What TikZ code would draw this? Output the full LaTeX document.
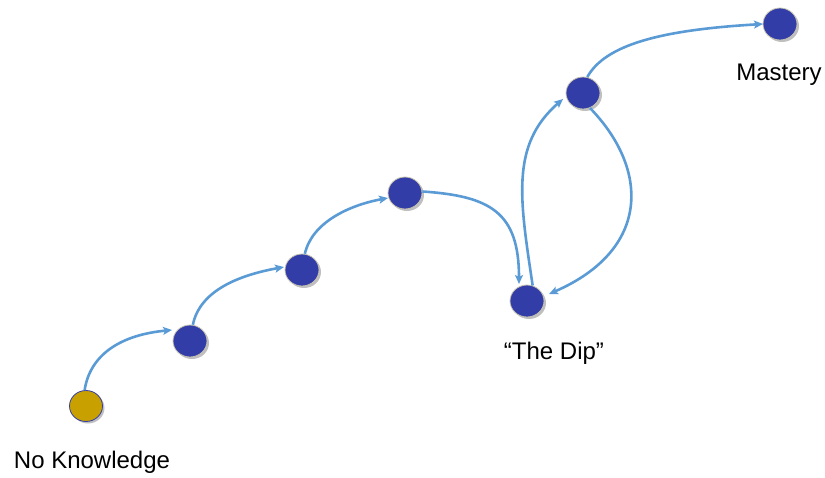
\documentclass[tikz,border=0pt]{standalone}
\usepackage{fontspec}
\setmainfont{Liberation Sans}
\usetikzlibrary{arrows.meta,shadows}
\definecolor{dotblue}{HTML}{333DA8}
\definecolor{dotgold}{HTML}{C8A000}
\definecolor{arrowblue}{HTML}{5B9BD5}
\definecolor{rimgray}{HTML}{C8C4B0}
\tikzset{
  dot/.style={ellipse, minimum width=34pt, minimum height=32pt, inner sep=0pt,
    fill=dotblue, draw=rimgray, line width=0.8pt,
    drop shadow={shadow xshift=2pt, shadow yshift=-2pt, opacity=0.25, fill=black}},
  startdot/.style={dot, fill=dotgold, draw=dotblue, minimum width=33pt, minimum height=31pt},
  link/.style={draw=arrowblue, line width=2.6pt, -{Stealth[length=9pt,width=8pt,inset=2pt]}},
  lbl/.style={font=\fontsize{24pt}{28pt}\selectfont, inner sep=0pt}
}
\usetikzlibrary{shapes.geometric}
\begin{document}
\begin{tikzpicture}[x=1pt,y=-1pt]
\useasboundingbox (0,0) rectangle (825,477);
\node[startdot] (n0) at (86,406) {};
\node[dot] (n1) at (190,341) {};
\node[dot] (n2) at (302,270) {};
\node[dot] (n3) at (405,193) {};
\node[dot] (dip) at (527,301) {};
\node[dot] (n5) at (583,93) {};
\node[dot] (mast) at (780,24) {};
\node[lbl] (t0) at (92,462) {No Knowledge};
\node[lbl] (t1) at (554,353) {“The Dip”};
\node[lbl] (t2) at (779,75) {Mastery};
\coordinate (e1) at (172,330);
\coordinate (e2) at (284,267);
\coordinate (e3) at (388,198);
\coordinate (e4) at (519,284);
\coordinate (e5) at (563,99);
\coordinate (e6) at (549,294);
\coordinate (e7) at (763,24);
\path[link] (n0.95) .. controls (90,355) and (120,335) .. (e1);
\path[link] (n1.80) .. controls (200,290) and (240,275) .. (e2);
\path[link] (n2.80) .. controls (312,222) and (350,205) .. (e3);
\path[link] (n3.5) .. controls (490,196) and (519,212) .. (e4);
\path[link] (dip.70) .. controls (520,200) and (510,145) .. (e5);
\path[link] (n5.-65) .. controls (650,170) and (650,250) .. (e6);
\path[link] (n5.75) .. controls (605,45) and (660,30) .. (e7);
\end{tikzpicture}
\end{document}
